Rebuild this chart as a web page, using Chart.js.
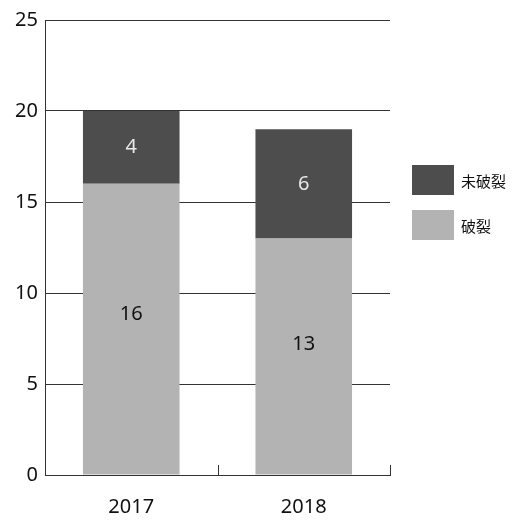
<!DOCTYPE html>
<html>
<head>
<meta charset="utf-8">
<script src="https://cdn.jsdelivr.net/npm/chart.js@4"></script>
<style>
    body { margin: 0; background: #fff; }
    #wrap { position: relative; width: 516px; height: 521px; }
    #legend { position: absolute; left: 412px; top: 165px; font-family: "Noto Sans CJK JP", "Noto Sans", sans-serif; font-size: 15px; color: #111; }
    #legend div { display: flex; align-items: center; height: 30px; margin-bottom: 15px; }
    #legend span { display: inline-block; width: 42px; height: 30px; margin-right: 7px; }
</style>
</head>
<body>
<div id="wrap">
    <canvas id="ruptureChart" width="516" height="521"></canvas>
    <div id="legend"></div>
</div>
<script>
const years = ["2017", "2018"];
const ruptured = [16, 13];
const unruptured = [4, 6];
const yTicks = [0, 5, 10, 15, 20, 25];

const DARK = "#4d4d4d";
const LIGHT = "#b3b3b3";
const FONT = "'Noto Sans', 'Open Sans', sans-serif";

// value labels inside each segment (labelPos = fraction down from the segment top)
const segmentLabels = {
    id: "segmentLabels",
    afterDatasetsDraw(chart) {
        const ctx = chart.ctx;
        ctx.save();
        ctx.font = "20px " + FONT;
        ctx.textAlign = "center";
        ctx.textBaseline = "middle";
        chart.data.datasets.forEach((ds, i) => {
            chart.getDatasetMeta(i).data.forEach((bar, j) => {
                ctx.fillStyle = ds.labelColor;
                ctx.fillText(ds.data[j], bar.x, bar.y + (bar.base - bar.y) * ds.labelPos);
            });
        });
        ctx.restore();
    },
};

// short upward ticks on the x axis at category boundaries
const boundaryTicks = {
    id: "boundaryTicks",
    afterDraw(chart) {
        const x = chart.scales.x;
        const ctx = chart.ctx;
        const half = (x.getPixelForValue(1) - x.getPixelForValue(0)) / 2;
        ctx.save();
        ctx.strokeStyle = "#333";
        ctx.lineWidth = 1;
        for (let i = 0; i < years.length; i++) {
            const px = Math.round(x.getPixelForValue(i) + half) + 0.5;
            ctx.beginPath();
            ctx.moveTo(px, x.top);
            ctx.lineTo(px, x.top - 10);
            ctx.stroke();
        }
        ctx.restore();
    },
};

const chart = new Chart(document.getElementById("ruptureChart"), {
    type: "bar",
    data: {
        labels: years,
        datasets: [
            {
                label: "破裂",
                data: ruptured,
                backgroundColor: LIGHT,
                labelColor: "#111",
                labelPos: 0.45,
            },
            {
                label: "未破裂",
                data: unruptured,
                backgroundColor: DARK,
                labelColor: "#e8e8e8",
                labelPos: 0.5,
            },
        ],
    },
    options: {
        responsive: false,
        animation: false,
        layout: {
            padding: { top: 20, right: 126, left: 0, bottom: 0 },
        },
        datasets: {
            bar: {
                categoryPercentage: 1,
                barPercentage: 0.56,
            },
        },
        scales: {
            x: {
                stacked: true,
                grid: { display: false },
                border: { color: "#333", width: 1 },
                ticks: {
                    color: "#111",
                    font: { family: FONT, size: 20 },
                    padding: 12,
                },
                afterFit(scale) {
                    scale.height = 46;
                },
            },
            y: {
                stacked: true,
                min: 0,
                max: 25,
                afterBuildTicks(scale) {
                    scale.ticks = yTicks.map((v) => ({ value: v }));
                },
                grid: {
                    color: "#333",
                    drawTicks: false,
                },
                border: { color: "#333", width: 1 },
                ticks: {
                    color: "#111",
                    font: { family: FONT, size: 20 },
                    padding: 7,
                },
                afterFit(scale) {
                    scale.width = 45;
                },
            },
        },
        plugins: {
            legend: { display: false },
            tooltip: { enabled: false },
        },
    },
    plugins: [segmentLabels, boundaryTicks],
});

// legend: top segment first
const legend = document.getElementById("legend");
[...chart.data.datasets].reverse().forEach((ds) => {
    const row = document.createElement("div");
    const box = document.createElement("span");
    box.style.background = ds.backgroundColor;
    row.appendChild(box);
    row.appendChild(document.createTextNode(ds.label));
    legend.appendChild(row);
});
</script>
</body>
</html>
